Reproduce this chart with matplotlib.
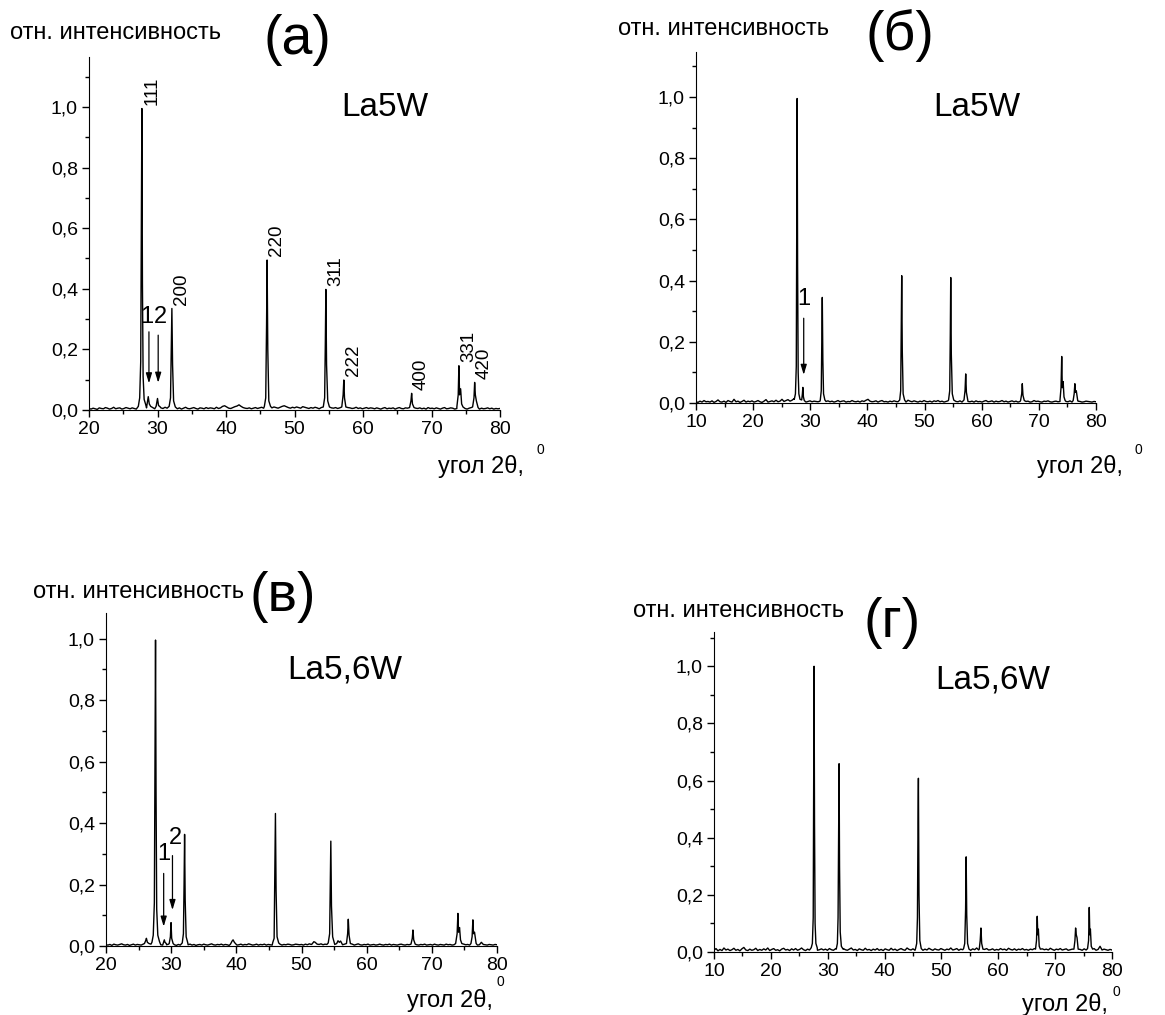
import numpy as np
import matplotlib
matplotlib.use('Agg')
import matplotlib.pyplot as plt
from matplotlib.ticker import MultipleLocator, FuncFormatter

plt.rcParams['font.family'] = ['Liberation Sans', 'DejaVu Sans']

W, H = 1165, 1015

# baseline noise, thousandths of max intensity, evenly spaced from start angle to 80
base_a = [5, 3, 6, 4, 2, 7, 5, 4, 8, 6, 3, 5, 9, 4, 6, 7, 3, 5, 8, 6,
          4, 7, 5, 3, 6, 9, 5, 4, 7, 6, 5, 8, 4, 6, 3, 7, 5, 9, 6, 4,
          8, 5, 6, 4, 7, 3, 6, 9, 5, 4, 6, 8, 5, 3, 7, 6, 4, 8, 5, 7,
          6, 4, 9, 5, 7, 12, 14, 10, 6, 5, 8, 11, 13, 17, 12, 8, 6, 5, 7, 4,
          6, 8, 5, 7, 9, 6, 4, 8, 6, 7, 10, 8, 6, 9, 12, 14, 11, 8, 6, 9,
          7, 10, 8, 6, 11, 9, 7, 5, 8, 6, 9, 7, 4, 8, 10, 6, 5, 9, 7, 6,
          8, 5, 7, 9, 6, 4, 8, 7, 5, 6, 9, 5, 7, 4, 6, 8, 5, 7, 6, 4,
          7, 5, 3, 6, 8, 4, 6, 5, 7, 3, 6, 8, 5, 4, 7, 6, 9, 5, 4, 6,
          5, 7, 4, 6, 3, 8, 5, 6, 4, 7, 5, 3, 6, 8, 4, 5, 7, 6, 3, 5,
          6, 4, 7, 5, 3, 6, 8, 4, 5, 7, 3, 6, 4, 5, 7, 4, 6, 3, 5, 4, 5]
base_b = [4, 2, 6, 3, 8, 4, 5, 3, 7, 2, 5, 10, 4, 3, 6, 2, 8, 5, 3, 12,
          4, 6, 2, 5, 9, 3, 6, 4, 7, 3, 5, 8, 4, 2, 6, 11, 3, 5, 7, 4,
          9, 4, 6, 12, 5, 8, 11, 6, 9, 14, 10, 6, 5, 4, 6, 3, 5, 7, 4, 6,
          5, 4, 6, 3, 8, 5, 7, 4, 6, 3, 5, 8, 4, 6, 7, 3, 5, 4, 8, 5,
          4, 6, 3, 7, 5, 9, 12, 6, 4, 5, 7, 3, 6, 8, 4, 5, 3, 6, 4, 7,
          5, 4, 6, 8, 5, 3, 9, 6, 4, 7, 5, 3, 6, 4, 8, 5, 4, 6, 3, 7,
          5, 8, 4, 6, 3, 5, 7, 4, 6, 9, 5, 4, 7, 3, 6, 8, 5, 4, 6, 3,
          7, 4, 5, 3, 6, 8, 4, 5, 7, 3, 6, 4, 5, 8, 4, 6, 3, 5, 7, 4,
          6, 3, 5, 4, 7, 5, 6, 3, 4, 8, 5, 6, 4, 3, 6, 5, 7, 4, 3, 5,
          6, 4, 5, 3, 6, 5, 4, 7, 3, 5, 4, 6, 5, 3, 4, 6, 5, 4, 3, 5, 4]
base_c = [4, 3, 5, 2, 6, 4, 3, 5, 7, 4, 3, 5, 2, 4, 6, 3, 5, 4, 3, 6,
          4, 5, 3, 6, 4, 2, 5, 7, 4, 3, 5, 4, 6, 3, 5, 4, 2, 5, 3, 4,
          5, 3, 4, 6, 3, 5, 2, 4, 5, 3, 6, 4, 3, 5, 7, 4, 3, 5, 4, 6,
          3, 5, 4, 2, 6, 4, 5, 3, 4, 6, 3, 5, 4, 7, 5, 3, 4, 6, 3, 5,
          4, 6, 3, 5, 4, 3, 5, 7, 4, 6, 3, 5, 4, 6, 5, 3, 4, 6, 5, 4,
          5, 3, 6, 4, 7, 5, 4, 6, 8, 5, 7, 4, 6, 5, 3, 4, 6, 5, 4, 3,
          5, 4, 6, 3, 5, 4, 6, 3, 5, 7, 4, 3, 5, 4, 6, 3, 4, 5, 3, 4,
          6, 4, 3, 5, 4, 6, 3, 5, 4, 3, 5, 6, 4, 3, 5, 4, 6, 3, 5, 4,
          3, 5, 4, 6, 3, 4, 5, 3, 6, 4, 3, 5, 4, 3, 6, 4, 5, 3, 4, 6,
          5, 3, 4, 6, 4, 5, 3, 5, 4, 6, 3, 4, 12, 5, 4, 3, 5, 4, 3, 5, 4]
base_d = [6, 12, 4, 9, 5, 14, 7, 10, 5, 8, 13, 6, 9, 4, 11, 16, 7, 5, 10, 6,
          8, 13, 5, 9, 6, 11, 7, 14, 5, 9, 12, 6, 8, 4, 10, 13, 7, 9, 5, 11,
          7, 12, 6, 9, 14, 8, 5, 10, 7, 13, 18, 9, 6, 8, 11, 7, 10, 6, 12, 8,
          6, 11, 7, 9, 5, 12, 8, 6, 10, 14, 7, 9, 5, 11, 8, 6, 13, 7, 9, 5,
          10, 7, 12, 6, 9, 5, 11, 8, 6, 13, 7, 10, 5, 9, 12, 8, 6, 14, 9, 7,
          11, 6, 9, 8, 12, 6, 10, 7, 13, 9, 6, 11, 8, 7, 12, 9, 6, 10, 8, 14,
          7, 9, 12, 6, 10, 8, 13, 7, 9, 6, 11, 8, 14, 7, 10, 6, 9, 12, 7, 8,
          11, 6, 9, 7, 12, 8, 10, 6, 13, 9, 7, 11, 6, 10, 8, 12, 7, 9, 6, 10,
          8, 12, 7, 9, 6, 11, 8, 10, 7, 13, 9, 6, 10, 8, 12, 7, 9, 11, 6, 8,
          10, 7, 12, 8, 9, 6, 11, 7, 10, 9, 8, 12, 6, 9, 20, 7, 10, 8, 6, 9, 7]

# diffraction peaks: (angles, relative intensities)
peaks_a = [
    ([27.2, 27.4, 27.55, 27.65, 27.72, 27.8, 27.9, 28.05, 28.25], [0.012, 0.04, 0.16, 0.62, 0.995, 0.42, 0.11, 0.035, 0.02]),
    ([28.45, 28.65, 28.8, 29.0], [0.015, 0.044, 0.02, 0.012]),
    ([29.8, 30.0, 30.15, 30.4], [0.012, 0.038, 0.015, 0.01]),
    ([31.7, 31.9, 32.0, 32.1, 32.2, 32.35, 32.6], [0.012, 0.04, 0.2, 0.335, 0.15, 0.03, 0.01]),
    ([45.6, 45.8, 45.92, 46.0, 46.1, 46.25, 46.5], [0.012, 0.04, 0.28, 0.495, 0.2, 0.03, 0.012]),
    ([54.2, 54.4, 54.5, 54.58, 54.68, 54.85, 55.1], [0.01, 0.04, 0.22, 0.398, 0.15, 0.03, 0.01]),
    ([56.9, 57.1, 57.2, 57.3, 57.5], [0.01, 0.05, 0.099, 0.04, 0.01]),
    ([66.8, 67.0, 67.1, 67.22, 67.45], [0.008, 0.03, 0.055, 0.02, 0.008]),
    ([73.7, 73.9, 74.0, 74.1, 74.25, 74.4, 74.6], [0.01, 0.05, 0.146, 0.05, 0.07, 0.02, 0.01]),
    ([76.0, 76.2, 76.3, 76.4, 76.55, 76.8], [0.01, 0.04, 0.091, 0.05, 0.03, 0.008]),
]
peaks_b = [
    ([27.2, 27.4, 27.55, 27.63, 27.7, 27.78, 27.88, 28.0, 28.2], [0.012, 0.03, 0.12, 0.55, 0.995, 0.45, 0.1, 0.03, 0.012]),
    ([28.5, 28.62, 28.7, 28.8, 28.95], [0.01, 0.03, 0.051, 0.02, 0.008]),
    ([31.75, 31.92, 32.02, 32.1, 32.2, 32.32, 32.55], [0.01, 0.04, 0.2, 0.345, 0.14, 0.03, 0.01]),
    ([45.65, 45.82, 45.93, 46.0, 46.1, 46.25, 46.5], [0.01, 0.04, 0.26, 0.416, 0.17, 0.03, 0.01]),
    ([54.2, 54.4, 54.5, 54.58, 54.68, 54.85, 55.1], [0.01, 0.04, 0.22, 0.41, 0.16, 0.03, 0.01]),
    ([56.9, 57.08, 57.2, 57.32, 57.55], [0.01, 0.04, 0.095, 0.035, 0.01]),
    ([66.8, 67.0, 67.1, 67.22, 67.45], [0.008, 0.03, 0.063, 0.025, 0.008]),
    ([73.7, 73.88, 74.0, 74.1, 74.25, 74.4, 74.6], [0.01, 0.05, 0.152, 0.05, 0.07, 0.02, 0.008]),
    ([76.0, 76.18, 76.3, 76.4, 76.55, 76.8], [0.008, 0.03, 0.063, 0.035, 0.04, 0.008]),
]
peaks_c = [
    ([25.9, 26.1, 26.2, 26.35, 26.6], [0.008, 0.018, 0.025, 0.012, 0.008]),
    ([27.05, 27.25, 27.42, 27.52, 27.6, 27.68, 27.78, 27.95, 28.2], [0.012, 0.035, 0.14, 0.6, 0.995, 0.5, 0.12, 0.035, 0.015]),
    ([28.8, 28.95, 29.05, 29.25], [0.01, 0.02, 0.012, 0.008]),
    ([29.7, 29.88, 29.98, 30.08, 30.3], [0.008, 0.03, 0.076, 0.025, 0.008]),
    ([31.7, 31.88, 31.98, 32.06, 32.15, 32.3, 32.55], [0.01, 0.04, 0.2, 0.363, 0.15, 0.03, 0.01]),
    ([39.1, 39.35, 39.5, 39.7, 39.95], [0.006, 0.016, 0.02, 0.012, 0.006]),
    ([45.6, 45.8, 45.92, 46.0, 46.1, 46.25, 46.5], [0.012, 0.025, 0.25, 0.431, 0.18, 0.03, 0.01]),
    ([51.6, 51.9, 52.1, 52.4], [0.006, 0.014, 0.012, 0.006]),
    ([54.1, 54.32, 54.42, 54.5, 54.6, 54.78, 55.05], [0.01, 0.04, 0.2, 0.341, 0.13, 0.03, 0.01]),
    ([55.4, 55.6, 55.8, 56.0, 56.2], [0.008, 0.017, 0.012, 0.016, 0.008]),
    ([56.9, 57.08, 57.18, 57.3, 57.5], [0.008, 0.04, 0.087, 0.035, 0.008]),
    ([66.8, 67.0, 67.1, 67.22, 67.45], [0.006, 0.025, 0.052, 0.02, 0.006]),
    ([73.65, 73.88, 74.0, 74.1, 74.25, 74.4, 74.6], [0.008, 0.04, 0.106, 0.045, 0.06, 0.02, 0.008]),
    ([76.0, 76.18, 76.3, 76.4, 76.55, 76.8], [0.008, 0.03, 0.085, 0.04, 0.045, 0.008]),
]
peaks_d = [
    ([27.1, 27.3, 27.45, 27.53, 27.6, 27.68, 27.78, 27.92, 28.15], [0.015, 0.03, 0.12, 0.55, 1.0, 0.45, 0.1, 0.03, 0.015]),
    ([31.5, 31.7, 31.82, 31.92, 32.0, 32.08, 32.2, 32.4, 32.7], [0.01, 0.03, 0.12, 0.4, 0.659, 0.3, 0.07, 0.02, 0.01]),
    ([45.45, 45.65, 45.78, 45.88, 45.95, 46.05, 46.2, 46.45], [0.012, 0.03, 0.12, 0.45, 0.608, 0.2, 0.04, 0.012]),
    ([53.9, 54.1, 54.25, 54.35, 54.45, 54.6, 54.85], [0.012, 0.03, 0.15, 0.333, 0.13, 0.03, 0.01]),
    ([56.65, 56.82, 56.95, 57.08, 57.3], [0.01, 0.04, 0.084, 0.03, 0.01]),
    ([66.55, 66.72, 66.85, 66.95, 67.05, 67.2, 67.4], [0.01, 0.04, 0.125, 0.06, 0.08, 0.02, 0.01]),
    ([73.3, 73.48, 73.6, 73.72, 73.85, 74.05], [0.01, 0.04, 0.084, 0.06, 0.05, 0.01]),
    ([75.7, 75.88, 76.0, 76.1, 76.2, 76.35, 76.6], [0.012, 0.04, 0.156, 0.06, 0.08, 0.02, 0.01]),
]

# hkl indices for panel (а): (peak angle, peak height, label)
hkl_a = [(27.72, 0.995, '111'), (32.1, 0.335, '200'), (46.0, 0.495, '220'),
         (54.58, 0.398, '311'), (57.2, 0.099, '222'), (67.1, 0.055, '400'),
         (74.0, 0.146, '331'), (76.3, 0.091, '420')]

# impurity arrows: (label, angle, arrow start, arrow end, label x, label y)
arrows_a = [('1', 28.75, 0.258, 0.088, 28.45, 0.272), ('2', 30.1, 0.247, 0.09, 30.4, 0.272)]
arrows_b = [('1', 28.85, 0.277, 0.092, 28.85, 0.305)]
arrows_c = [('1', 28.85, 0.236, 0.063, 28.85, 0.262), ('2', 30.2, 0.294, 0.117, 30.6, 0.316)]


def pattern(lo, base, peaks):
    bx = np.linspace(lo, 80, len(base))
    by = np.array(base) / 1000.0
    keep = np.ones(len(bx), bool)
    for px, py in peaks:
        keep &= (bx < px[0]) | (bx > px[-1])
    x = np.concatenate([bx[keep]] + [np.array(px) for px, py in peaks])
    y = np.concatenate([by[keep]] + [np.array(py) for px, py in peaks])
    order = np.argsort(x)
    return x[order], y[order]


def fx(px):
    return px / W


def fy(py):
    return 1 - py / H


def make_axes(fig, left, top, right, bottom, xlo, ytop):
    ax = fig.add_axes([fx(left), fy(bottom), (right - left) / W, (bottom - top) / H])
    ax.set_xlim(xlo, 80)
    ax.set_ylim(0, ytop)
    for s in ['top', 'right']:
        ax.spines[s].set_visible(False)
    ax.xaxis.set_major_locator(MultipleLocator(10))
    ax.xaxis.set_minor_locator(MultipleLocator(5))
    ax.yaxis.set_major_locator(MultipleLocator(0.2))
    ax.yaxis.set_minor_locator(MultipleLocator(0.1))
    ax.yaxis.set_major_formatter(FuncFormatter(lambda v, p: f'{v:.1f}'.replace('.', ',')))
    ax.tick_params(which='major', direction='out', length=5, width=1, labelsize=14, pad=3)
    ax.tick_params(which='minor', direction='out', length=3, width=1)
    ax.patch.set_visible(False)
    return ax


def draw_arrows(ax, arrows):
    for lab, x, y0, y1, tx, ty in arrows:
        ax.annotate('', xy=(x, y1), xytext=(x, y0),
                    arrowprops=dict(arrowstyle='-|>,head_width=0.18,head_length=0.6',
                                    color='black', lw=0.9, shrinkA=0, shrinkB=0))
        ax.text(tx, ty, lab, fontsize=17, ha='center', va='bottom')


def xlabel(fig, left, y, sup_x, sup_y):
    fig.text(fx(left), fy(y), 'угол 2θ,', fontsize=17, ha='left', va='center')
    fig.text(fx(sup_x), fy(sup_y), '0', fontsize=10, ha='center', va='center')


fig = plt.figure(figsize=(W / 100, H / 100), dpi=100)

# (а)
ax = make_axes(fig, 89, 57, 500, 410, 20, 1.165)
x, y = pattern(20, base_a, peaks_a)
ax.plot(x, y, color='black', lw=1)
for ang, h, lab in hkl_a:
    ax.text(ang + 0.2, h + 0.012, lab, rotation=90, fontsize=13.5, ha='left', va='bottom')
draw_arrows(ax, arrows_a)
fig.text(fx(10), fy(33), 'отн. интенсивность', fontsize=17, ha='left', va='center')
fig.text(fx(297), fy(40), '(а)', fontsize=40, ha='center', va='center')
fig.text(fx(385), fy(107), 'La5W', fontsize=24, ha='center', va='center')
xlabel(fig, 438, 466, 540, 450)

# (б)
ax = make_axes(fig, 696, 52, 1096, 403, 10, 1.147)
x, y = pattern(10, base_b, peaks_b)
ax.plot(x, y, color='black', lw=1)
draw_arrows(ax, arrows_b)
fig.text(fx(618), fy(29), 'отн. интенсивность', fontsize=17, ha='left', va='center')
fig.text(fx(900), fy(36), '(б)', fontsize=40, ha='center', va='center')
fig.text(fx(977), fy(107), 'La5W', fontsize=24, ha='center', va='center')
xlabel(fig, 1037, 466, 1138, 450)

# (в)
ax = make_axes(fig, 106, 613, 497, 946, 20, 1.083)
x, y = pattern(20, base_c, peaks_c)
ax.plot(x, y, color='black', lw=1)
draw_arrows(ax, arrows_c)
fig.text(fx(33), fy(592), 'отн. интенсивность', fontsize=17, ha='left', va='center')
fig.text(fx(283), fy(597), '(в)', fontsize=40, ha='center', va='center')
fig.text(fx(345), fy(670), 'La5,6W', fontsize=24, ha='center', va='center')
xlabel(fig, 407, 1000, 500, 982)

# (г)
ax = make_axes(fig, 714, 632, 1112, 952, 10, 1.12)
x, y = pattern(10, base_d, peaks_d)
ax.plot(x, y, color='black', lw=1)
fig.text(fx(633), fy(611), 'отн. интенсивность', fontsize=17, ha='left', va='center')
fig.text(fx(892), fy(623), '(г)', fontsize=40, ha='center', va='center')
fig.text(fx(993), fy(680), 'La5,6W', fontsize=24, ha='center', va='center')
xlabel(fig, 1022, 1005, 1116, 992)

fig.savefig('out.png', dpi=100)
